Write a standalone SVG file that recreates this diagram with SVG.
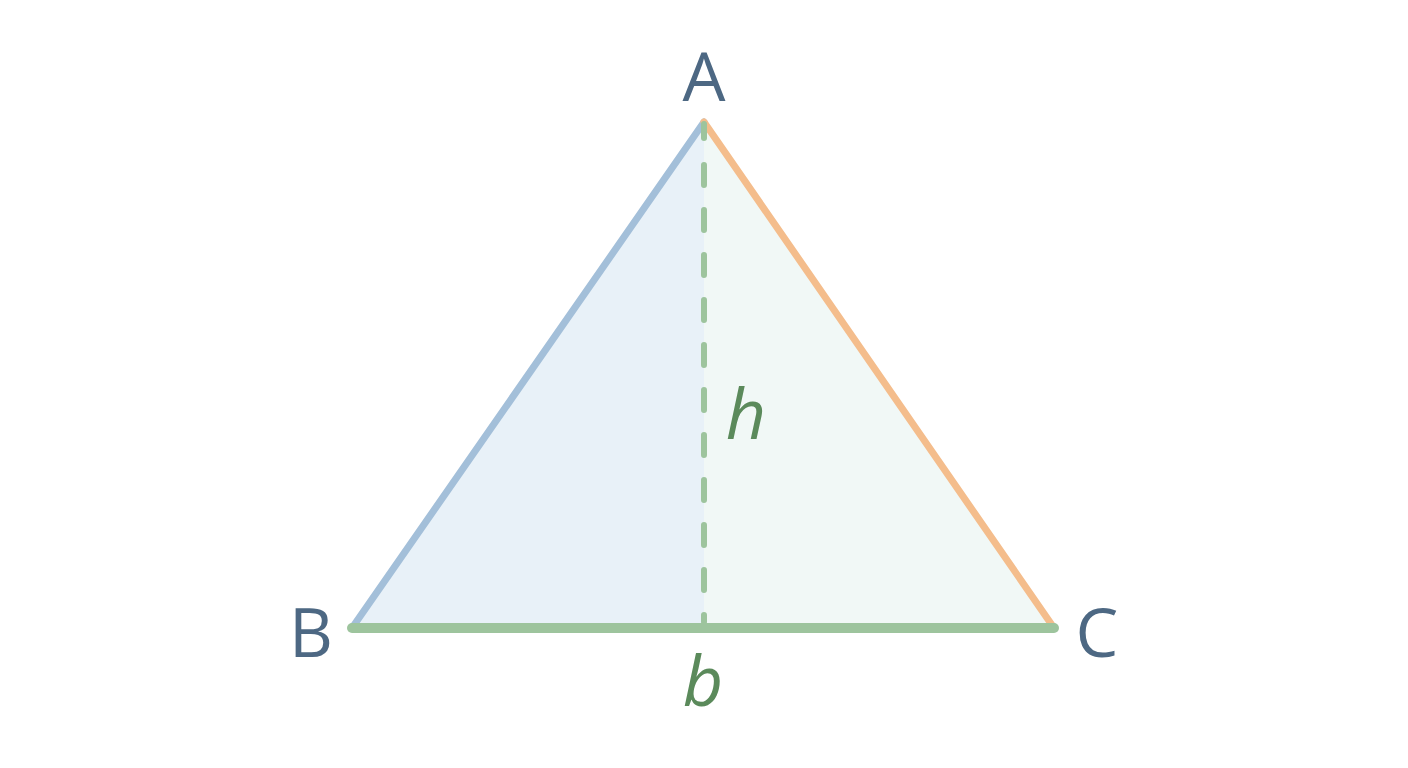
<svg xmlns="http://www.w3.org/2000/svg" width="1408" height="768" viewBox="0 0 1408 768">
<style>
.vlabel{font-family:"Open Sans","Noto Sans","DejaVu Sans",sans-serif;font-size:68px;fill:#4d6883;text-anchor:middle}
.mlabel{font-family:"Open Sans","Noto Sans","DejaVu Sans",sans-serif;font-size:70px;font-style:italic;fill:#5b8a5b;text-anchor:middle}
</style>
<rect width="1408" height="768" fill="#ffffff"/>
<g id="triangle">
<polygon points="704,122 352,628 704,628" fill="#e8f1f8"/>
<polygon points="704,122 1054,628 704,628" fill="#f1f8f6"/>
</g>
<g id="connectors" fill="none" stroke-linecap="round">
<line id="altitude" x1="704" y1="165" x2="704" y2="622" stroke="#9dc49d" stroke-width="6" stroke-dasharray="20 25"/>
<line id="side-AB" x1="704" y1="122" x2="352" y2="628" stroke="#a3bfd9" stroke-width="7"/>
<line id="side-AC" x1="704" y1="122" x2="1054" y2="628" stroke="#f4bd8c" stroke-width="7"/>
<line id="side-BC" x1="352" y1="628" x2="1054" y2="628" stroke="#9dc49d" stroke-width="10"/>
<line x1="704" y1="124" x2="704" y2="138" stroke="#9dc49d" stroke-width="6"/>
</g>
<g id="node-A"><text class="vlabel" x="704" y="101">A</text></g>
<g id="node-B"><text class="vlabel" x="311" y="657">B</text></g>
<g id="node-C"><text class="vlabel" x="1097" y="657">C</text></g>
<g id="label-h"><text class="mlabel" x="746" y="439">h</text></g>
<g id="label-b"><text class="mlabel" x="703" y="706">b</text></g>
</svg>
